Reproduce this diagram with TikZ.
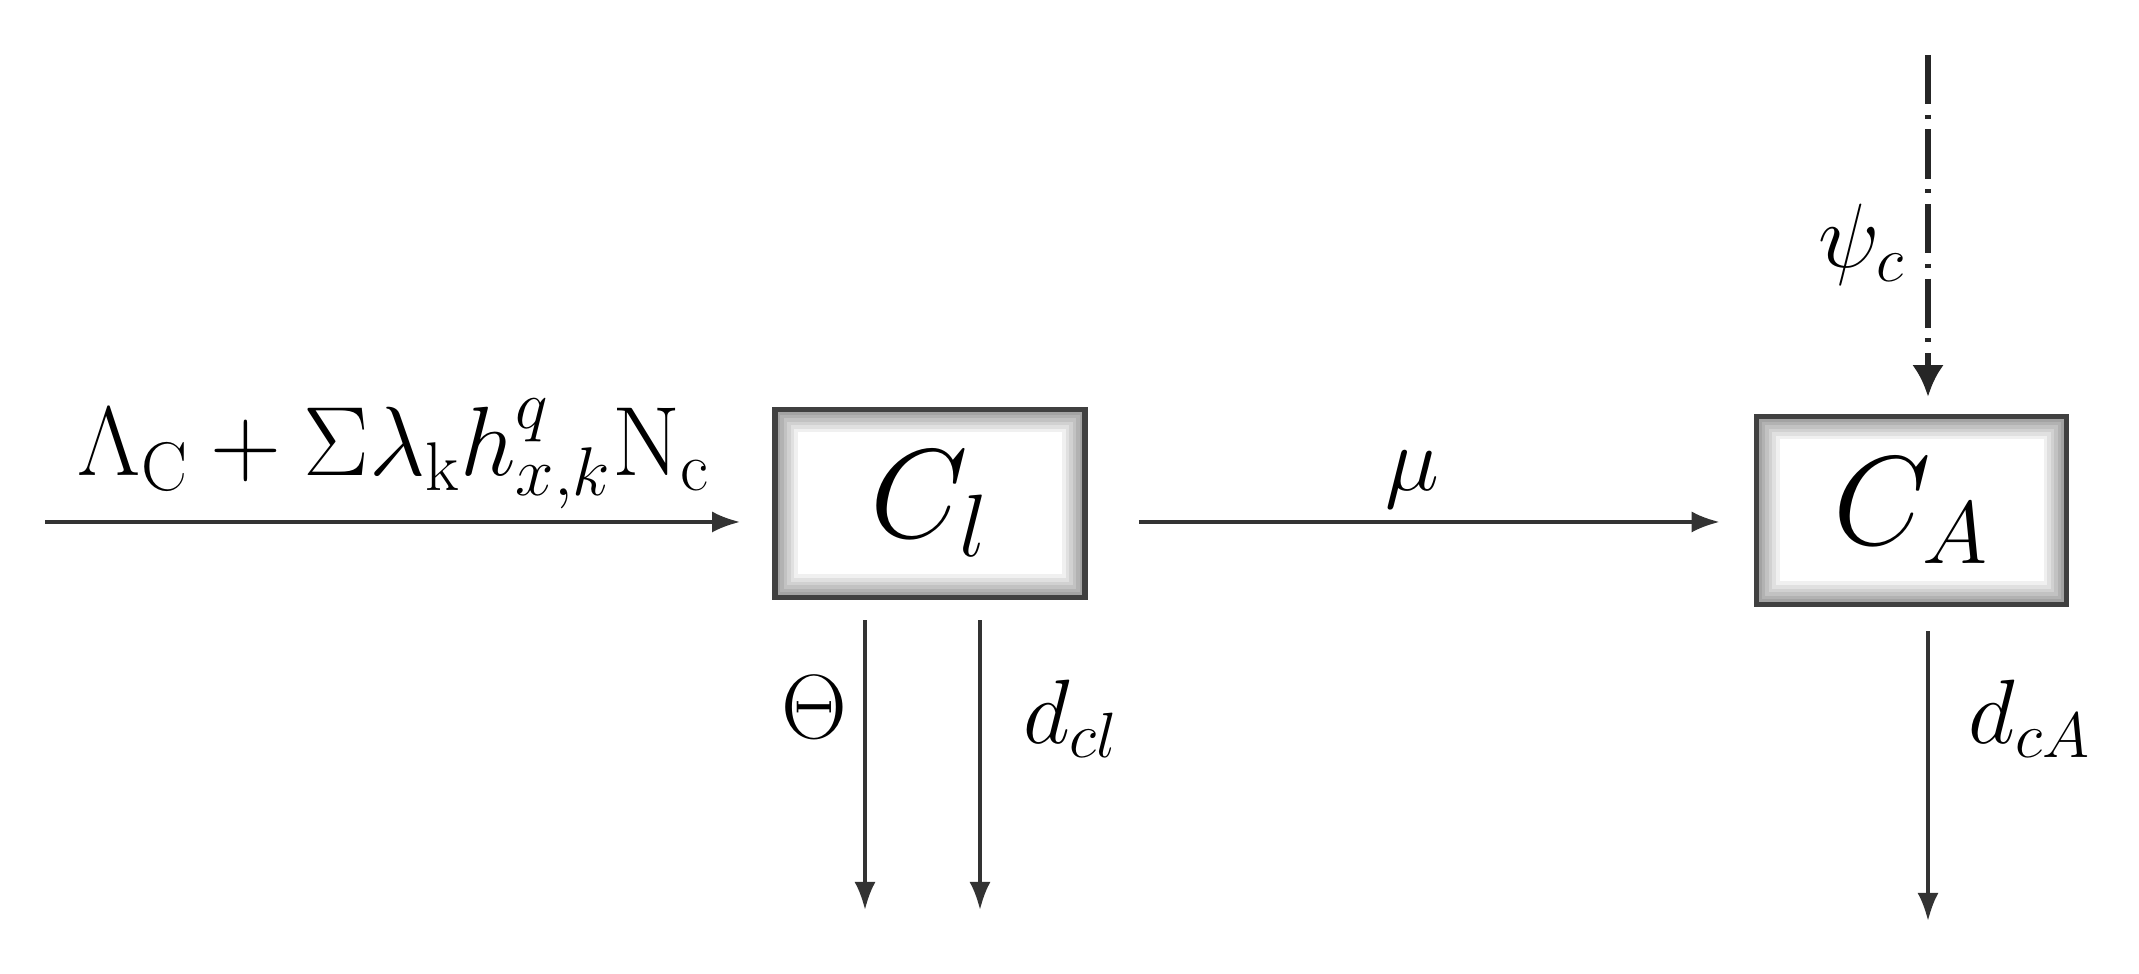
\documentclass[tikz,border=0pt]{standalone}
\usepackage{fix-cm}
\usetikzlibrary{arrows.meta}
\begin{document}
\begin{tikzpicture}[
    comp/.style={draw=black!75, line width=1.6pt, fill=white,
      minimum width=3.1cm, minimum height=1.88cm,
      font=\fontsize{36}{38}\selectfont,
      path picture={\foreach \i [evaluate=\i as \g using 42-6*\i] in {1,...,6}
        \draw[black!\g, line width=1.1pt]
          ([shift={(\i pt,\i pt)}]path picture bounding box.south west) rectangle
          ([shift={(-\i pt,-\i pt)}]path picture bounding box.north east);}},
    flow/.style={draw=black!80, line width=1pt, -{Latex[length=8pt,width=6pt]}},
    inflow/.style={draw=black!85, line width=1.6pt,
      dash pattern=on 14pt off 3pt on 1.2pt off 3pt, -{Latex[length=9pt,width=9pt]}},
    rate/.style={font=\fontsize{26}{28}\selectfont}
  ]
  \useasboundingbox (0,0) rectangle (21.39,9.74);
  % compartments
  \node[comp] (Cl) at (9.30,4.705) {$C_l$};
  \node[comp] (CA) at (19.115,4.635) {$C_A$};
  % free ends
  \coordinate (in) at (0.45,4.52);
  \coordinate (psiin) at (19.28,9.19);
  \coordinate (thetaout) at (8.65,0.64);
  \coordinate (dclout) at (9.80,0.64);
  \coordinate (dcAout) at (19.28,0.53);
  % flows
  \draw[flow, shorten >=0.32cm] (in) -- (in -| Cl.west);
  \draw[flow, shorten <=0.51cm, shorten >=0.34cm] (Cl.east |- in) -- (CA.west |- in);
  \draw[inflow, shorten >=0.17cm] (psiin) -- (CA.north -| psiin);
  \draw[flow, shorten <=0.2cm] (Cl.south -| thetaout) -- (thetaout);
  \draw[flow, shorten <=0.2cm] (Cl.south -| dclout) -- (dclout);
  \draw[flow, shorten <=0.24cm] (CA.south -| dcAout) -- (dcAout);
  % rates
  \node[rate, font=\fontsize{28}{30}\selectfont] (lam) at (3.94,5.2)
    {$\Lambda_{\mathrm{C}}+\Sigma\lambda_{\mathrm{k}}h^{q}_{x,k}\mathrm{N}_{\mathrm{c}}$};
  \node[rate] (mu) at (14.12,4.94) {$\mu$};
  \node[rate] (psi) at (18.62,7.29) {$\psi_c$};
  \node[rate] (theta) at (8.14,2.67) {$\Theta$};
  \node[rate] (dcl) at (10.71,2.55) {$d_{cl}$};
  \node[rate] (dcA) at (20.30,2.55) {$d_{cA}$};
\end{tikzpicture}
\end{document}
